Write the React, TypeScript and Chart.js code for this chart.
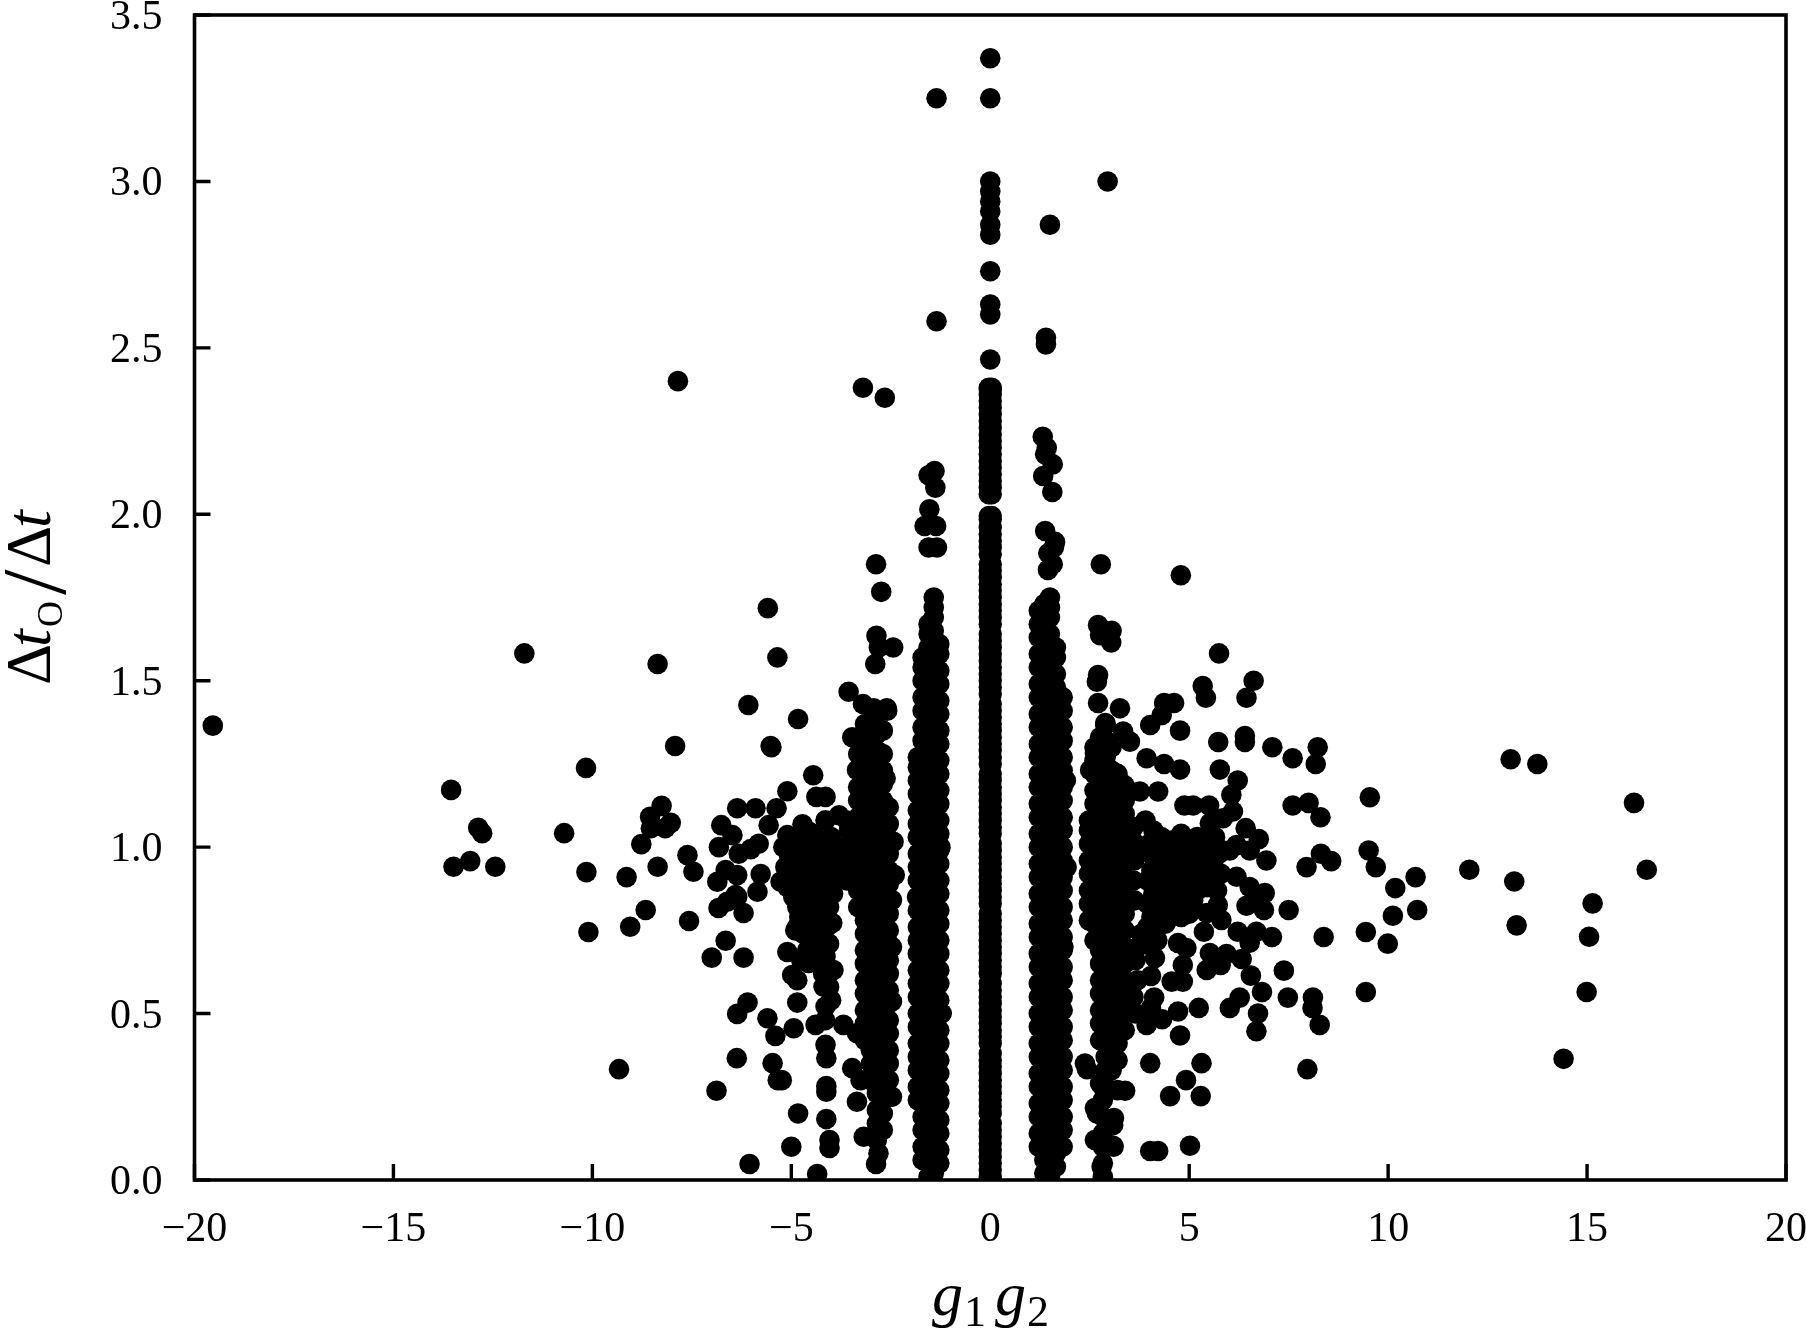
import React, { useEffect, useRef } from "react";
import { Chart, registerables } from "chart.js";

Chart.register(...registerables);

const xTicks = [-20, -15, -10, -5, 0, 5, 10, 15, 20];
const yTicks = [0, 0.5, 1, 1.5, 2, 2.5, 3, 3.5];

const centreTop = [3.37,3.25,3.0,2.97,2.94,2.91,2.87,2.84,2.73,2.63,2.6,2.465];
const centreA = [.01,.05,.09,.13,.17,.22,.26,.3,.34,.38,.43,.47,.51,.55,.59,.64,.68,.72,.76,.8,.85,.89,.93,.97,1.01,1.06,1.1,1.14,1.18,1.22,1.27,1.31,1.35,1.39,1.43,1.48,1.52,1.56,1.6,1.64,1.69,1.73,1.77,1.81,1.85,1.9,1.94,1.985,2.06,2.1,2.14,2.18,2.22,2.26,2.3,2.34,2.375];
const centreB = [.03,.07,.11,.15,.2,.24,.28,.32,.36,.41,.45,.49,.53,.57,.62,.66,.7,.74,.78,.83,.87,.91,.95,.99,1.04,1.08,1.12,1.16,1.2,1.25,1.29,1.33,1.37,1.41,1.46,1.5,1.54,1.58,1.62,1.67,1.71,1.75,1.79,1.83,1.88,1.92,1.96,1.995,2.08,2.12,2.16,2.2,2.24,2.28,2.32,2.36,2.38];

const negBandA = [.24,.28,.33,.37,.41,.46,.5,.55,.59,.63,.68,.72,.76,.81,.85,.9,.94,.98,1.03,1.07,1.11,1.16,1.2,1.24,1.27];
const negBandB = [.06,.1,.15,.19,.23,.28,.33,.37,.42,.46,.51,.55,.6,.64,.69,.73,.78,.82,.87,.91,.96,1,1.05,1.09,1.14,1.18,1.23,1.27,1.32,1.36,1.41,1.45,1.5,1.54,1.57];
const negBandC = [.01,.05,.09,.13,.17,.21,.26,.3,.34,.38,.42,.47,.51,.55,.59,.63,.68,.72,.76,.8,.84,.89,.93,.97,1.01,1.05,1.1,1.14,1.18,1.22,1.26,1.31,1.35,1.39,1.43,1.47,1.52,1.56,1.6,1.64,1.67];
const negBandD = [.02,.06,.1,.14,.19,.23,.27,.31,.35,.4,.44,.48,.52,.56,.61,.65,.69,.73,.77,.82,.86,.9,.94,.98,1.03,1.07,1.11,1.15,1.19,1.24,1.28,1.32,1.36,1.4,1.45,1.49,1.53,1.57,1.61,1.65,1.69,1.72,1.75];
const negBandE = [.05,.09,.14,.18,.23,.27,.32,.36,.41,.45,.5,.54,.59,.63,.68,.72,.77,.81,.86,.9,.95,.99,1.04,1.08,1.13,1.17,1.22,1.26,1.31,1.35,1.4,1.44,1.49,1.53,1.58,1.61];

const posBandA = [.1,.14,.19,.23,.28,.32,.37,.41,.46,.5,.55,.59,.64,.68,.73,.77,.82,.86,.91,.95,1,1.04,1.09,1.13,1.18,1.22,1.27,1.31,1.36,1.4,1.45,1.49,1.54,1.58,1.63,1.67,1.71];
const posBandB = [.02,.06,.1,.15,.19,.23,.27,.31,.36,.4,.44,.48,.52,.57,.61,.65,.69,.73,.78,.82,.86,.9,.94,.99,1.03,1.07,1.11,1.15,1.2,1.24,1.28,1.32,1.36,1.41,1.45,1.49,1.53,1.57,1.62,1.66,1.7,1.73];
const posBandC = [.01,.05,.09,.13,.17,.21,.26,.3,.34,.38,.42,.47,.51,.55,.59,.63,.68,.72,.76,.8,.84,.89,.93,.97,1.01,1.05,1.1,1.14,1.18,1.22,1.26,1.31,1.35,1.39,1.43,1.47,1.52,1.56,1.6,1.64,1.69,1.72,1.75];
const posBandD = [.04,.08,.13,.17,.22,.26,.31,.35,.4,.44,.49,.53,.58,.62,.67,.71,.76,.8,.85,.89,.94,.98,1.03,1.07,1.12,1.16,1.21,1.25,1.3,1.34,1.39,1.43,1.48,1.52,1.57,1.6];
const posBandE = [.1,.15,.19,.24,.28,.33,.37,.42,.46,.51,.55,.6,.64,.69,.73,.78,.82,.87,.91,.96,1,1.05,1.09,1.14,1.18,1.23,1.27,1.32,1.36,1.41,1.45];

const negThreeA = [.82,.87,.91,.96,1,1.05,1.09,1.14,1.18,1.23,1.28];
const negThreeB = [.42,.47,.51,.56,.6,.65,.69,.74,.78,.83,.87,.92,.96,1.01,1.05,1.1,1.14,1.19,1.23,1.28,1.32,1.37];
const negThreeC = [.3,.35,.39,.44,.48,.53,.57,.62,.66,.71,.75,.8,.84,.89,.93,.98,1.02,1.07,1.11,1.16,1.2,1.25,1.29,1.34,1.38];
const negThreeD = [.12,.17,.21,.26,.3,.35,.39,.44,.48,.53,.57,.62,.66,.71,.75,.8,.84,.89,.93,.98,1.02,1.07,1.11,1.16,1.2,1.25,1.29,1.34,1.4];
const negThreeE = [.15,.2,.24,.29,.33,.38,.42,.47,.51,.56,.6,.65,.69,.74,.78,.83,.87,.92,.96,1.01,1.05,1.1,1.14,1.19,1.23,1.28,1.35];
const negThreeF = [.3,.35,.39,.44,.48,.53,.57,.62,.66,.71,.75,.8,.84,.89,.93,.98,1.02,1.07,1.12];

const posThreeA = [.78,.83,.87,.92,.96,1.01,1.05,1.08];
const posThreeB = [.72,.77,.81,.86,.9,.95,.99,1.04,1.08,1.13,1.17,1.22,1.26,1.3];
const posThreeC = [.42,.47,.51,.56,.6,.65,.69,.74,.78,.83,.87,.92,.96,1.01,1.05,1.1,1.14,1.19,1.23,1.28,1.33];
const posThreeD = [.28,.33,.37,.42,.46,.51,.55,.6,.64,.69,.73,.78,.82,.87,.91,.96,1,1.05,1.09,1.14,1.18,1.23,1.27,1.32,1.37];
const posThreeE = [.33,.38,.42,.47,.51,.56,.6,.65,.69,.74,.78,.83,.87,.92,.96,1.01,1.05,1.1,1.14,1.19,1.23,1.3];
const posThreeF = [.36,.41,.45,.5,.54,.59,.63,.68,.72,.77,.81,.86,.9,.95,.99,1.04,1.08,1.13,1.17,1.22];
const posThreeG = [.45,.5,.55,.6,.65,.7,.75,.8,.85,.9,.95,1,1.05,1.1,1.14];
const posThreeFoot = [.01,.05,.1,.14,.19,.24,.28];

const columnGroups: [number, number[]][] = [
  [0, centreTop], [-0.035, centreA], [0.035, centreB], [-0.035, centreB], [0.035, centreA],
  [-1.82, negBandA], [-1.7, negBandB], [-1.55, negBandC], [-1.42, negBandD], [-1.28, negBandE],
  [1.22, posBandA], [1.36, posBandB], [1.5, posBandC], [1.65, posBandD], [1.82, posBandE],
  [-3.32, negThreeA], [-3.15, negThreeB], [-3.0, negThreeC], [-2.85, negThreeD], [-2.7, negThreeE], [-2.55, negThreeF],
  [2.48, posThreeA], [2.62, posThreeB], [2.76, posThreeC], [2.9, posThreeD], [3.05, posThreeE], [3.2, posThreeF], [3.38, posThreeG], [2.83, posThreeFoot],
];

const upperPoints = [[-1.35,3.25],[2.95,3.0],[1.5,2.87],[-1.35,2.58],[-7.85,2.4],[-3.2,2.38],[-2.65,2.35],[1.4,2.53],[1.4,2.51],
  [-1.4,2.13],[-1.55,2.117],[-1.38,2.08],[-1.53,2.015],[-1.65,1.965],[-1.36,1.965],[-1.55,1.9],[-1.34,1.9],
  [1.32,2.233],[1.42,2.2],[1.38,2.18],[1.57,2.15],[1.33,2.115],[1.56,2.067],[1.38,1.95],[1.63,1.917],[1.46,1.883],[1.6,1.9],[1.57,1.85],[1.45,1.833],
  [1.9,1.2],[1.92,.94],[1.84,.7],[-1.84,.85],[-1.25,1.0],[-1.22,.5]];

const negThreePoints = [[-2.87,1.85],[-2.74,1.767],[-2.86,1.635],[-2.44,1.6],[-2.8,1.6],[-2.89,1.55],[-3.56,1.467],[-3.2,1.43],[-2.93,1.417],[-2.6,1.417],[-4.83,1.385],[-5.35,1.57],[-5.59,1.718],
  [-3.47,1.33],[-2.59,1.41],[-2.72,1.352],[-2.84,1.283],[-3.06,1.31],[-3.35,1.232],[-2.63,1.207],[-2.43,1.016],[-2.4,.916],[-2.47,.841],[-2.47,.7],[-2.47,.536],[-2.47,.25],
  [-3.35,.235],[-2.5,.25],[-3.18,.13],[-2.81,.08],[-2.87,.048],[-3.35,.441],[-3.47,.336],[-3.26,.3],[-3.69,.466],[-3.8,1.096],[-4.14,1.081],
  [-3.6,.9],[-3.62,.95],[-3.58,1.0],[-3.55,1.05],[-3.6,1.08]];

const leftPoints = [[-19.54,1.365],[-13.55,1.172],[-12.87,1.058],[-12.77,1.042],[-11.71,1.582],[-10.71,1.042],[-13.49,.941],[-13.07,.958],[-12.44,.941],[-10.16,1.238],[-10.15,.925],[-9.14,.91],[-10.1,.745],[-9.05,.761],[-8.66,.811],[-9.33,.333],
  [-8.36,1.55],[-7.92,1.304],[-8.26,1.124],[-8.55,1.091],[-8.03,1.073],[-8.53,1.057],[-8.17,1.057],[-8.77,1.009],[-8.36,.941],[-7.61,.976],[-7.46,.926],[-7.57,.778],[-6.88,.268],
  [-6.08,1.427],[-5.52,1.304],[-5.5,1.3],[-4.45,1.216],[-5.1,1.168],[-4.37,1.151],[-4.14,1.151],[-6.36,1.117],[-5.9,1.117],[-5.37,1.117],[-5.57,1.066],[-6.76,1.066],[-6.48,1.036],[-6.82,1.0],[-6.32,.98],[-5.82,1.01],[-4.72,1.069],[-5.1,1.036],[-6.02,.994],
  [-6.86,.896],[-6.65,.931],[-6.36,.916],[-5.77,.919],[-5.85,.866],[-6.36,.851],[-6.61,.836],[-6.83,.817],[-6.2,.802],[-6.65,.719],[-7.0,.668],[-6.2,.668],[-6.4,.856],
  [-5.27,.896],[-4.82,.832],[-4.85,.761],[-5.1,.685],[-4.98,.616],[-4.85,.6],[-4.57,.652],[-4.1,.761],[-3.97,.772],[-3.94,.631],[-4.14,.671],[-4.19,.581],[-4.14,.521],
  [-6.1,.533],[-6.36,.499],[-4.85,.533],[-5.6,.486],[-5.4,.433],[-4.94,.456],[-4.39,.466],[-4.14,.406],[-4.12,.366],[-6.37,.366],[-5.47,.351],[-5.34,.3],[-5.24,.3],[-4.83,.2],[-4.12,.282],[-4.12,.265],[-4.12,.183],[-4.04,.12],[-4.04,.096],[-5.0,.1],[-6.05,.048],[-4.35,.018]];

const leftClump = [[-5.2,1.0],[-5.0,1.02],[-4.8,1.03],[-4.6,1.05],[-4.4,1.0],[-4.2,1.02],[-4.0,1.03],[-5.15,.94],[-4.95,.96],[-4.75,.95],[-4.55,.97],[-4.35,.93],[-4.15,.95],[-3.95,.97],[-3.8,1.0],[-5.1,.88],[-4.9,.9],[-4.7,.87],[-4.5,.89],[-4.3,.86],[-4.1,.88],[-3.85,.93],[-4.85,.82],[-4.65,.8],[-4.45,.83],[-4.25,.8],[-4.05,.82],[-4.7,.74],[-4.5,.72],[-4.3,.74],[-4.9,.75],
  [-5.05,.97],[-4.85,.99],[-4.65,1.0],[-4.45,1.04],[-4.25,.98],[-4.05,.99],[-5.0,.92],[-4.8,.91],[-4.6,.92],[-4.4,.9],[-4.2,.91],[-4.0,.9],[-4.95,.85],[-4.75,.84],[-4.55,.85],[-4.35,.82],[-4.15,.84],[-3.95,.86],[-4.6,.77],[-4.4,.78],[-4.2,.76],[-4.8,.79],[-4.4,.68],[-4.6,.69],[-4.25,.7],[-4.05,.71],[-4.1,.64],[-4.05,.58],[-4.0,.54],[-4.2,.62],[-4.75,.66],[-4.15,.48]];

const posThreePoints = [[2.78,1.85],[4.79,1.817],[2.71,1.667],[3.05,1.65],[2.76,1.637],[3.04,1.615],[2.71,1.517],[2.68,1.497],[2.71,1.433],[3.26,1.417],[2.89,1.367],[2.89,1.373],[3.34,1.347],[3.51,1.317],[2.63,1.283],[2.51,1.232],[2.68,1.167],[3.39,1.182],[3.76,1.167],[3.36,1.187],
  [2.43,.333],[2.38,.35],[2.68,.2],[3.09,.165],[2.68,.12],[3.1,.1],[2.8,.04],[3.39,.268],[3.2,.27],[2.76,.29],[2.63,.216],[2.63,.12],[3.11,.186],[3.09,.103],
  [3.62,.84],[3.6,.9],[3.62,.96],[3.58,1.02],[3.6,1.06]];

const rightPoints = [[5.75,1.582],[5.34,1.484],[5.42,1.449],[6.62,1.5],[6.44,1.449],[4.37,1.433],[4.62,1.433],[4.31,1.397],[4.02,1.367],[4.77,1.35],[5.73,1.316],[6.4,1.334],[6.4,1.316],[7.09,1.3],[7.6,1.267],[8.23,1.3],[8.18,1.25],[3.93,1.267],[4.37,1.25],[4.77,1.233],[5.77,1.233],[6.22,1.2],[6.06,1.157],[4.22,1.167],[9.54,1.15],[8.0,1.133],[7.6,1.125],[8.3,1.09],
  [6.1,1.107],[5.85,1.087],[5.52,1.072],[4.88,1.125],[5.1,1.125],[5.5,1.125],[6.42,1.057],[6.75,1.024],[6.94,.96],[6.19,1.006],[6.52,.99],[6.02,.99],[9.51,.99],[9.69,.94],[8.31,.98],[8.57,.958],[7.95,.94],[10.69,.91],[10.18,.877],[10.73,.811],[10.12,.794],[9.44,.745],[9.99,.71],[9.44,.565],
  [7.5,.811],[8.38,.73],[7.38,.629],[7.48,.548],[8.11,.548],[8.1,.517],[8.28,.466],[7.97,.333],[6.9,.862],[6.44,.824],[6.88,.811],[6.65,.847],[6.52,.88],[6.19,.911],[5.72,.826],[5.44,.802],[5.81,.781],[5.37,.746],[6.22,.746],[6.69,.746],[7.08,.73],[6.52,.713],
  [4.72,.712],[4.93,.697],[4.14,.667],[4.84,.646],[4.04,.613],[5.52,.682],[5.94,.679],[6.32,.664],[5.44,.631],[5.79,.646],[6.55,.614],[4.56,.596],[4.84,.596],[6.83,.565],[6.27,.548],[6.02,.517],[6.73,.5],[6.69,.447],
  [4.12,.548],[4.04,.517],[4.72,.506],[4.32,.483],[3.93,.466],[5.24,.517],[4.77,.434],[5.31,.351],[4.92,.3],[4.52,.252],[5.29,.252],[4.02,.351],[5.02,.103],[4.02,.087],[4.22,.087],
  [12.04,.932],[13.08,1.264],[13.75,1.25],[13.17,.897],[13.23,.765],[16.18,1.133],[16.5,.932],[15.14,.831],[15.05,.731],[14.99,.565],[14.41,.364]];

const rightClump = [[3.9,1.08],[4.1,1.05],[4.3,1.03],[4.55,1.02],[4.8,1.04],[5.0,1.0],[5.2,1.03],[5.4,.99],[5.65,1.03],[5.85,.99],[3.85,.99],[4.1,.97],[4.35,.98],[4.6,.96],[4.85,.94],[5.1,.95],[5.35,.93],[5.6,.95],[5.8,.92],[3.95,.9],[4.2,.89],[4.45,.91],[4.7,.9],[4.95,.88],[5.2,.87],[5.45,.88],[3.95,.83],[4.2,.81],[4.45,.84],[4.7,.83],[4.4,.77],[4.15,.76],[3.95,.76],[5.0,.8],[3.8,.74],
  [4.0,1.01],[4.2,1.0],[4.45,1.0],[4.7,.99],[4.95,.97],[5.15,.99],[5.35,.97],[5.55,.99],[5.75,.98],[4.05,.93],[4.3,.93],[4.55,.93],[4.8,.92],[5.05,.91],[5.3,.89],[5.55,.9],[5.7,.87],[4.1,.86],[4.35,.87],[4.6,.87],[4.85,.85],[5.1,.84],[4.3,.79],[4.55,.79],[4.8,.79],[4.05,.79],[3.9,.71],[4.2,.72],[3.7,.7],[3.65,.66],[3.7,.6],[3.6,.55],[3.65,.5]];

const serif = '"Liberation Serif", "Times New Roman", serif';

const frameAndTitles = {
  id: "frameAndTitles",
  beforeDraw(chart: any) {
    // glyphs of the tick labels sit slightly high in their em box
    for (const item of chart.scales.y.getLabelItems()) {
      if (!item.shifted) {
        item.options.translation[1] += 3;
        item.shifted = true;
      }
    }
  },
  afterDraw(chart: any) {
    const { ctx, chartArea: a, scales } = chart;
    ctx.save();
    ctx.strokeStyle = "#000";
    ctx.lineWidth = 3.6;
    ctx.strokeRect(a.left, a.top, a.right - a.left, a.bottom - a.top);
    ctx.lineWidth = 3.4;
    ctx.beginPath();
    for (const v of xTicks) {
      const p = scales.x.getPixelForValue(v);
      ctx.moveTo(p, a.bottom);
      ctx.lineTo(p, a.bottom - 16);
    }
    for (const v of yTicks) {
      const p = scales.y.getPixelForValue(v);
      ctx.moveTo(a.left, p);
      ctx.lineTo(a.left + 16, p);
    }
    ctx.stroke();

    ctx.fillStyle = "#000";
    ctx.textAlign = "left";
    ctx.textBaseline = "alphabetic";
    const runs: [string, string, number, number][] = [
      ["g", `italic 62px ${serif}`, 932, 1315],
      ["1", `44px ${serif}`, 964, 1326],
      ["g", `italic 62px ${serif}`, 995, 1315],
      ["2", `44px ${serif}`, 1027, 1326],
    ];
    for (const [t, f, x, y] of runs) {
      ctx.font = f;
      ctx.fillText(t, x, y);
    }
    ctx.translate(50, 685);
    ctx.rotate(-Math.PI / 2);
    const yRuns: [string, string, number, number][] = [
      ["Δ", `64px ${serif}`, 0, 0],
      ["t", `italic 64px ${serif}`, 38, 0],
      ["O", `36px ${serif}`, 58, 12],
      ["/", `92px ${serif}`, 90, 15],
      ["Δ", `64px ${serif}`, 118, 0],
      ["t", `italic 64px ${serif}`, 157, 0],
    ];
    for (const [t, f, x, y] of yRuns) {
      ctx.font = f;
      ctx.fillText(t, x, y);
    }
    ctx.restore();
  },
};

export default function App() {
  const ref = useRef<HTMLCanvasElement>(null);
  useEffect(() => {
    const points: { x: number; y: number }[] = [];
    for (const [x, ys] of columnGroups) for (const y of ys) points.push({ x, y });
    for (const list of [upperPoints, negThreePoints, leftPoints, leftClump, posThreePoints, rightPoints, rightClump])
      for (const [x, y] of list) points.push({ x, y });

    const tickFont = { family: serif, size: 42 };
    const chart = new Chart(ref.current!, {
      type: "scatter",
      data: {
        datasets: [
          {
            data: points,
            backgroundColor: "#000",
            borderWidth: 0,
            pointRadius: 10.3,
            clip: 0,
          } as any,
        ],
      },
      options: {
        responsive: false,
        animation: false,
        layout: { padding: { top: 15, right: 20, left: 0, bottom: 0 } },
        plugins: { legend: { display: false }, tooltip: { enabled: false } },
        scales: {
          x: {
            type: "linear",
            min: -20,
            max: 20,
            afterFit(s: any) {
              s.height = 151;
              s.paddingLeft = 0;
              s.paddingRight = 0;
            },
            afterBuildTicks(s: any) {
              s.ticks = xTicks.map((value) => ({ value }));
            },
            grid: { display: false, drawTicks: false },
            border: { display: false },
            ticks: {
              color: "#000",
              font: tickFont,
              padding: 25,
              maxRotation: 0,
              autoSkip: false,
              callback: (v: any) => String(v).replace("-", "\u2212"),
            },
          },
          y: {
            type: "linear",
            min: 0,
            max: 3.5,
            afterFit(s: any) {
              s.width = 194.5;
              s.paddingTop = 0;
              s.paddingBottom = 0;
            },
            afterBuildTicks(s: any) {
              s.ticks = yTicks.map((value) => ({ value }));
            },
            grid: { display: false, drawTicks: false },
            border: { display: false },
            ticks: {
              color: "#000",
              font: tickFont,
              padding: 32,
              autoSkip: false,
              callback: (v: any) => Number(v).toFixed(1),
            },
          },
        },
      },
      plugins: [frameAndTitles],
    });
    return () => chart.destroy();
  }, []);
  return (
    <div style={{ position: "fixed", left: 0, top: 0, width: 1806, height: 1331, background: "#fff" }}>
      <canvas ref={ref} width={1806} height={1331} style={{ display: "block" }} />
    </div>
  );
}
